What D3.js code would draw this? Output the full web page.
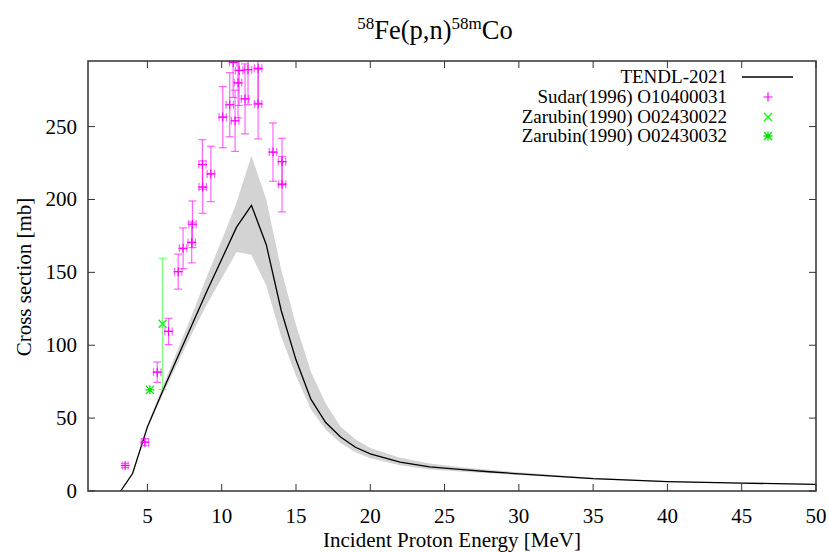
<!DOCTYPE html>
<html>
<head>
<meta charset="utf-8">
<script src="https://cdn.jsdelivr.net/npm/d3@7"></script>
<style>
  body { margin: 0; background: #fff; }
</style>
</head>
<body>
<div id="chart"></div>
<script>
// 58Fe(p,n)58mCo cross section - TENDL-2021 vs experimental data

// TENDL-2021 evaluation (energy in MeV, cross section in mb)
const tendlE  = [3.2, 4, 5, 6, 7, 8, 9, 10, 11, 12, 13, 14, 15, 16, 17, 18, 19, 20, 22, 24, 26, 28, 30, 35, 40, 45, 50];
const tendlXS = [0, 12, 44, 68, 91, 114, 137, 159, 181, 196, 169, 124, 90, 63, 47, 37, 30, 25.5, 19.8, 16.6, 14.8, 13.2, 11.8, 8.5, 6.5, 5.4, 4.6];
const tendlLo = [0, 11.5, 42.5, 65.5, 87, 108, 128, 146, 164, 162, 141, 106, 79, 56, 42, 33, 26.5, 22.5, 17.6, 14.8, 13.4, 12.1, 11, 8, 6.1, 5.1, 4.4];
const tendlHi = [0, 12.5, 45.5, 71, 96, 121, 147, 172, 198, 230, 200, 152, 114, 82, 60, 44, 35.5, 29.5, 22.8, 18.8, 16.5, 14.6, 12.8, 9.1, 6.9, 5.7, 4.8];

// Sudar(1996) O10400031
const sudarE   = [3.5, 4.83, 5.66, 6.42, 7.07, 7.4, 7.98, 8.03, 8.72, 8.7, 9.27, 10.07, 10.54, 10.9, 10.77, 11.1, 11.17, 11.57, 11.77, 12.45, 12.45, 13.45, 14.06, 14.06];
const sudarXS  = [17.5, 33.5, 81.5, 109.5, 150.5, 166.5, 170.5, 183, 208.5, 224, 217.5, 256.5, 265, 254, 294, 280, 288.5, 269, 289, 290, 265.5, 232.5, 226, 210.5];
const sudarDE  = [0.2, 0.25, 0.25, 0.25, 0.25, 0.25, 0.25, 0.25, 0.25, 0.25, 0.25, 0.25, 0.25, 0.25, 0.25, 0.25, 0.25, 0.25, 0.25, 0.25, 0.25, 0.25, 0.25, 0.25];
const sudarDXS = [1.5, 2.5, 7, 9, 12, 14, 14, 16, 18, 17, 19, 21, 22, 21, 24, 24, 24, 24, 24, 24, 24, 20, 16, 19];

// Zarubin(1990) O02430022
const zar22E = [6.02];
const zar22XS = [114.7];
const zar22DXS = [45];

// Zarubin(1990) O02430032
const zar32E = [5.17];
const zar32XS = [69.4];

const xTicks = [5, 10, 15, 20, 25, 30, 35, 40, 45, 50];
const yTicks = [0, 50, 100, 150, 200, 250];

const legendLabels = ['TENDL-2021', 'Sudar(1996) O10400031', 'Zarubin(1990) O02430022', 'Zarubin(1990) O02430032'];

const width = 829, height = 552;
const plotLeft = 88, plotRight = 816, plotTop = 61, plotBottom = 491;
const serif = "'Liberation Serif', 'Times New Roman', Times, 'DejaVu Serif', serif";

const svg = d3.select('#chart').append('svg')
    .attr('width', width)
    .attr('height', height)
    .attr('font-family', serif);

const x = d3.scaleLinear().domain([1, 50]).range([plotLeft, plotRight]);
const y = d3.scaleLinear().domain([0, 295]).range([plotBottom, plotTop]);

svg.append('defs').append('clipPath').attr('id', 'plotClip')
    .append('rect')
    .attr('x', plotLeft).attr('y', plotTop)
    .attr('width', plotRight - plotLeft).attr('height', plotBottom - plotTop);

const plot = svg.append('g').attr('clip-path', 'url(#plotClip)');

// uncertainty band
const tendl = tendlE.map((e, i) => ({ e: e, v: tendlXS[i], lo: tendlLo[i], hi: tendlHi[i] }));
plot.append('path')
    .datum(tendl)
    .attr('d', d3.area().x(d => x(d.e)).y0(d => y(d.lo)).y1(d => y(d.hi)))
    .style('fill', '#d3d3d3');

plot.append('path')
    .datum(tendl)
    .attr('d', d3.line().x(d => x(d.e)).y(d => y(d.v)))
    .style('fill', 'none')
    .style('stroke', '#000')
    .style('stroke-width', 1.3);

// marker shapes
const plusPath = 'M-4.5,0H4.5M0,-4.5V4.5';
const crossPath = 'M-4,-4L4,4M-4,4L4,-4';
const starPath = plusPath + crossPath;

// Sudar points with x and y error bars
const sudar = sudarE.map((e, i) => ({ e: e, v: sudarXS[i], de: sudarDE[i], dv: sudarDXS[i] }));
const cap = 4;
const sg = plot.append('g');
sudar.forEach(d => {
    const g = sg.append('g').style('stroke', '#ff00ff').style('fill', 'none');
    const px = x(d.e), py = y(d.v);
    const y1 = y(d.v + d.dv), y2 = y(d.v - d.dv);
    const x1 = x(d.e - d.de), x2 = x(d.e + d.de);
    const eb = g.append('g').style('stroke-opacity', 0.6).style('stroke-width', 1.2);
    eb.append('line').attr('x1', px).attr('x2', px).attr('y1', y1).attr('y2', y2);
    eb.append('line').attr('x1', px - cap).attr('x2', px + cap).attr('y1', y1).attr('y2', y1);
    eb.append('line').attr('x1', px - cap).attr('x2', px + cap).attr('y1', y2).attr('y2', y2);
    eb.append('line').attr('x1', x1).attr('x2', x2).attr('y1', py).attr('y2', py);
    eb.append('line').attr('x1', x1).attr('x2', x1).attr('y1', py - cap).attr('y2', py + cap);
    eb.append('line').attr('x1', x2).attr('x2', x2).attr('y1', py - cap).attr('y2', py + cap);
    g.append('path').attr('d', plusPath).attr('transform', `translate(${px},${py})`)
        .style('stroke-width', 1.2);
});

// Zarubin O02430022 with y error bars
zar22E.forEach((e, i) => {
    const px = x(e), py = y(zar22XS[i]);
    const y1 = y(zar22XS[i] + zar22DXS[i]), y2 = y(zar22XS[i] - zar22DXS[i]);
    const eb = plot.append('g').style('stroke', '#00ff00').style('stroke-opacity', 0.5).style('stroke-width', 1.2);
    eb.append('line').attr('x1', px).attr('x2', px).attr('y1', y1).attr('y2', y2);
    eb.append('line').attr('x1', px - cap).attr('x2', px + cap).attr('y1', y1).attr('y2', y1);
    eb.append('line').attr('x1', px - cap).attr('x2', px + cap).attr('y1', y2).attr('y2', y2);
    plot.append('path').attr('d', crossPath).attr('transform', `translate(${px},${py})`)
        .style('stroke', '#00ff00').style('stroke-width', 1.3).style('fill', 'none');
});

// Zarubin O02430032
zar32E.forEach((e, i) => {
    plot.append('path').attr('d', starPath).attr('transform', `translate(${x(e)},${y(zar32XS[i])})`)
        .style('stroke', '#00e000').style('stroke-width', 1.3).style('fill', 'none');
});

// axes with inward ticks on all sides
const tickLen = 7;
const axes = svg.append('g').style('stroke', '#333').style('stroke-width', 1);
xTicks.forEach(t => {
    axes.append('line').attr('x1', x(t)).attr('x2', x(t)).attr('y1', plotBottom).attr('y2', plotBottom - tickLen);
    axes.append('line').attr('x1', x(t)).attr('x2', x(t)).attr('y1', plotTop).attr('y2', plotTop + tickLen);
});
yTicks.forEach(t => {
    axes.append('line').attr('x1', plotLeft).attr('x2', plotLeft + tickLen).attr('y1', y(t)).attr('y2', y(t));
    axes.append('line').attr('x1', plotRight).attr('x2', plotRight - tickLen).attr('y1', y(t)).attr('y2', y(t));
});
svg.append('rect')
    .attr('x', plotLeft).attr('y', plotTop)
    .attr('width', plotRight - plotLeft).attr('height', plotBottom - plotTop)
    .style('fill', 'none').style('stroke', '#333').style('stroke-width', 1.5);

svg.append('g').selectAll('text').data(xTicks).enter().append('text')
    .attr('x', d => x(d)).attr('y', 523)
    .attr('text-anchor', 'middle')
    .attr('font-family', serif)
    .style('font-size', '21px')
    .text(d => d);

svg.append('g').selectAll('text').data(yTicks).enter().append('text')
    .attr('x', 77).attr('y', d => y(d) + 7)
    .attr('text-anchor', 'end')
    .attr('font-family', serif)
    .style('font-size', '21px')
    .text(d => d);

// axis titles
svg.append('text')
    .attr('x', 452).attr('y', 547)
    .attr('text-anchor', 'middle')
    .attr('font-family', serif)
    .style('font-size', '21px')
    .text('Incident Proton Energy [MeV]');

svg.append('text')
    .attr('transform', 'translate(31,277) rotate(-90)')
    .attr('text-anchor', 'middle')
    .attr('font-family', serif)
    .style('font-size', '21px')
    .text('Cross section [mb]');

// title with superscripts
const title = svg.append('text')
    .attr('x', 435).attr('y', 39)
    .attr('text-anchor', 'middle')
    .attr('font-family', serif)
    .style('font-size', '26.5px');
title.append('tspan').attr('dy', -10).style('font-size', '17px').text('58');
title.append('tspan').attr('dy', 10).text('Fe(p,n)');
title.append('tspan').attr('dy', -10).style('font-size', '17px').text('58m');
title.append('tspan').attr('dy', 10).text('Co');

// legend
const legX = 727, sampleX = 768;
const legY = [77, 97, 117, 136];
const legend = svg.append('g');
legendLabels.forEach((label, i) => {
    legend.append('text')
        .attr('x', legX).attr('y', legY[i] + 5.5)
        .attr('text-anchor', 'end')
        .attr('font-family', serif)
        .style('font-size', '19px')
        .text(label);
});
legend.append('line')
    .attr('x1', 742).attr('x2', 793).attr('y1', legY[0]).attr('y2', legY[0])
    .style('stroke', '#000').style('stroke-width', 1.3);
legend.append('path').attr('d', plusPath).attr('transform', `translate(${sampleX},${legY[1]})`)
    .style('stroke', '#ff00ff').style('stroke-width', 1.2);
legend.append('path').attr('d', crossPath).attr('transform', `translate(${sampleX},${legY[2]})`)
    .style('stroke', '#00ff00').style('stroke-width', 1.3);
legend.append('path').attr('d', starPath).attr('transform', `translate(${sampleX},${legY[3]})`)
    .style('stroke', '#00e000').style('stroke-width', 1.3);
</script>
</body>
</html>
